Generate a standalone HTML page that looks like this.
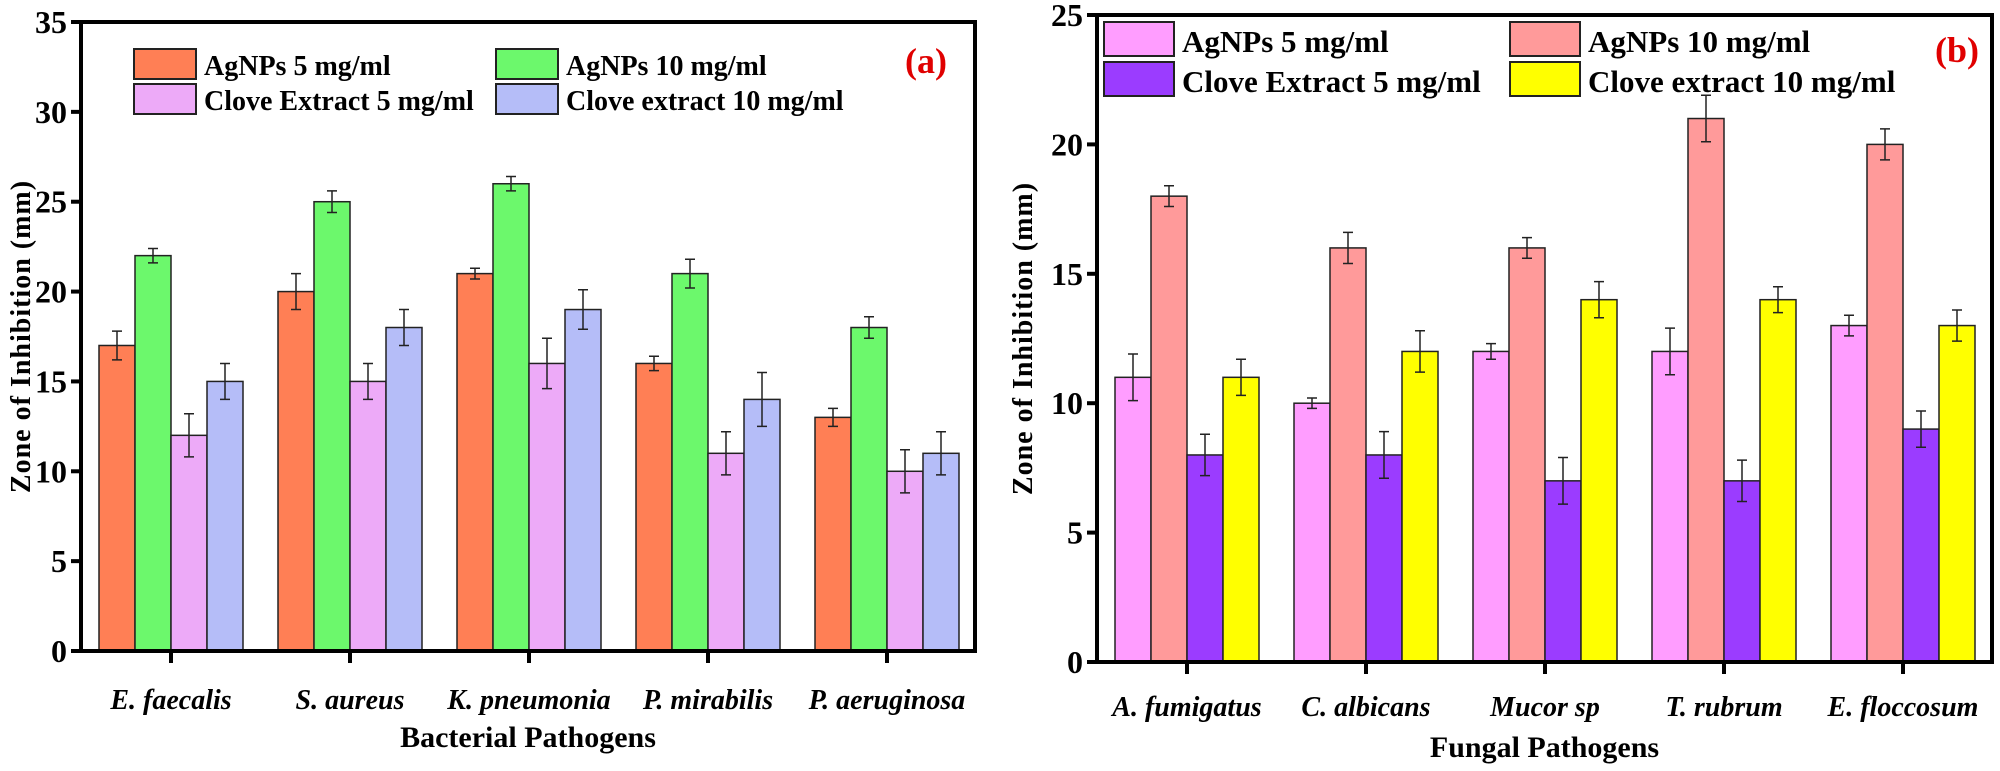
<!DOCTYPE html>
<html><head><meta charset="utf-8"><style>
body{margin:0;background:#fff}
svg{display:block;font-family:"Liberation Serif",serif}
</style></head><body>
<svg id="c" width="2000" height="771" viewBox="0 0 2000 771"></svg>
<script>
const catsA=["E. faecalis","S. aureus","K. pneumonia","P. mirabilis","P. aeruginosa"];
const seriesNamesA=["AgNPs 5 mg/ml","AgNPs 10 mg/ml","Clove Extract 5 mg/ml","Clove extract 10 mg/ml"];
const valsA1=[17,20,21,16,13];
const valsA2=[22,25,26,21,18];
const valsA3=[12,15,16,11,10];
const valsA4=[15,18,19,14,11];
const errA1=[0.8,1,0.3,0.4,0.5];
const errA2=[0.4,0.6,0.4,0.8,0.6];
const errA3=[1.2,1,1.4,1.2,1.2];
const errA4=[1,1,1.1,1.5,1.2];
const ticksA=[0,5,10,15,20,25,30,35];

const catsB=["A. fumigatus","C. albicans","Mucor sp","T. rubrum","E. floccosum"];
const seriesNamesB=["AgNPs 5 mg/ml","AgNPs 10 mg/ml","Clove Extract 5 mg/ml","Clove extract 10 mg/ml"];
const valsB1=[11,10,12,12,13];
const valsB2=[18,16,16,21,20];
const valsB3=[8,8,7,7,9];
const valsB4=[11,12,14,14,13];
const errB1=[0.9,0.2,0.3,0.9,0.4];
const errB2=[0.4,0.6,0.4,0.9,0.6];
const errB3=[0.8,0.9,0.9,0.8,0.7];
const errB4=[0.7,0.8,0.7,0.5,0.6];
const ticksB=[0,5,10,15,20,25];

const NS="http://www.w3.org/2000/svg";
const svg=document.getElementById('c');
function mk(tag,attrs,parent,text){const e=document.createElementNS(NS,tag);for(const k in attrs)e.setAttribute(k,attrs[k]);if(text!==undefined)e.textContent=text;(parent||svg).appendChild(e);return e;}

function drawChart(o){
  const g=mk('g',{});
  
  
  const y=v=>o.y0-(v/o.max)*(o.y0-o.top);
  const x=i=>o.c0+i*o.step;
  const vals=[o.v1,o.v2,o.v3,o.v4], errs=[o.e1,o.e2,o.e3,o.e4];
  const bw=36;
  for(let s=0;s<4;s++){
    for(let i=0;i<o.cats.length;i++){
      const bx=x(i)-2*bw+s*bw;
      const r=mk('rect',{x:bx,y:y(vals[s][i]),width:bw,height:o.y0-y(vals[s][i]),fill:o.colors[s],stroke:'#222','stroke-width':1.5},g);
      
      
      const cx=bx+bw/2, t=y(vals[s][i]+errs[s][i]), b=y(vals[s][i]-errs[s][i]);
      const eb=mk('path',{d:`M${cx},${t}V${b}M${cx-5},${t}H${cx+5}M${cx-5},${b}H${cx+5}`,stroke:'#222','stroke-width':1.5,fill:'none'},g);
      
      
    }
  }
  const fr=mk('rect',{x:o.x0,y:o.top,width:o.x1-o.x0,height:o.y0-o.top,fill:'none',stroke:'#000','stroke-width':4},g);
  
  
  o.ticks.forEach(t=>{
    mk('line',{x1:o.x0-10,x2:o.x0,y1:y(t),y2:y(t),stroke:'#000','stroke-width':4},g);
    const tl=mk('text',{x:o.x0-14,y:y(t)+11,'text-anchor':'end','font-size':32,'font-weight':'bold'},g,t);
    
    
  });
  o.cats.forEach((c,i)=>{
    mk('line',{x1:x(i),x2:x(i),y1:o.y0,y2:o.y0+12,stroke:'#000','stroke-width':4},g);
    const cl=mk('text',{x:x(i),y:o.labY,'text-anchor':'middle','font-size':28,'font-weight':'bold','font-style':'italic'},g,c);
    
    
  });
  const xt=mk('text',{x:(o.x0+o.x1)/2,y:o.titY,'text-anchor':'middle','font-size':30,'font-weight':'bold'},g,o.xtitle);
  
  
  const yt=mk('text',{x:0,y:0,transform:`translate(${o.ytX},${(o.top+o.y0)/2}) rotate(-90)`,'text-anchor':'middle','font-size':28,'font-weight':'bold','letter-spacing':1},g,'Zone of Inhibition (mm)');
  
  
  const pl=mk('text',{x:o.panX,y:o.panY,'text-anchor':'middle','font-size':36,'font-weight':'bold',fill:'#e00000'},g,o.panel);
  
  
  o.names.forEach((n,s)=>{
    const lx=o.legX[s%2], ly=o.legY[Math.floor(s/2)];
    const le=mk('g',{},g);
    
    
    mk('rect',{x:lx,y:ly,width:o.swW,height:o.swH,fill:o.colors[s],stroke:'#222','stroke-width':2},le);
    mk('text',{x:lx+o.swW+8,y:ly+o.swH-4,'font-size':o.legFs,'font-weight':'bold'},le,n);
  });
}
drawChart({name:'chart-a-bacterial',cats:catsA,names:seriesNamesA,v1:valsA1,v2:valsA2,v3:valsA3,v4:valsA4,e1:errA1,e2:errA2,e3:errA3,e4:errA4,ticks:ticksA,max:35,
  colors:['#ff7f55','#6cf86c','#edaaf8','#b5bdf8'],x0:81,x1:975,top:22,y0:651,c0:171,step:179,labY:709,titY:747,xtitle:'Bacterial Pathogens',ytX:30,
  panel:'(a)',panX:926,panY:73,legX:[134,496],legY:[49,84],swW:62,swH:30,legFs:28});
drawChart({name:'chart-b-fungal',cats:catsB,names:seriesNamesB,v1:valsB1,v2:valsB2,v3:valsB3,v4:valsB4,e1:errB1,e2:errB2,e3:errB3,e4:errB4,ticks:ticksB,max:25,
  colors:['#ff9dff','#ff9a9a','#9b3cff','#ffff00'],x0:1097,x1:1992,top:15,y0:662,c0:1187,step:179,labY:716,titY:757,xtitle:'Fungal Pathogens',ytX:1032,
  panel:'(b)',panX:1957,panY:62,legX:[1104,1510],legY:[22,62],swW:70,swH:34,legFs:31});
</script>
</body></html>
